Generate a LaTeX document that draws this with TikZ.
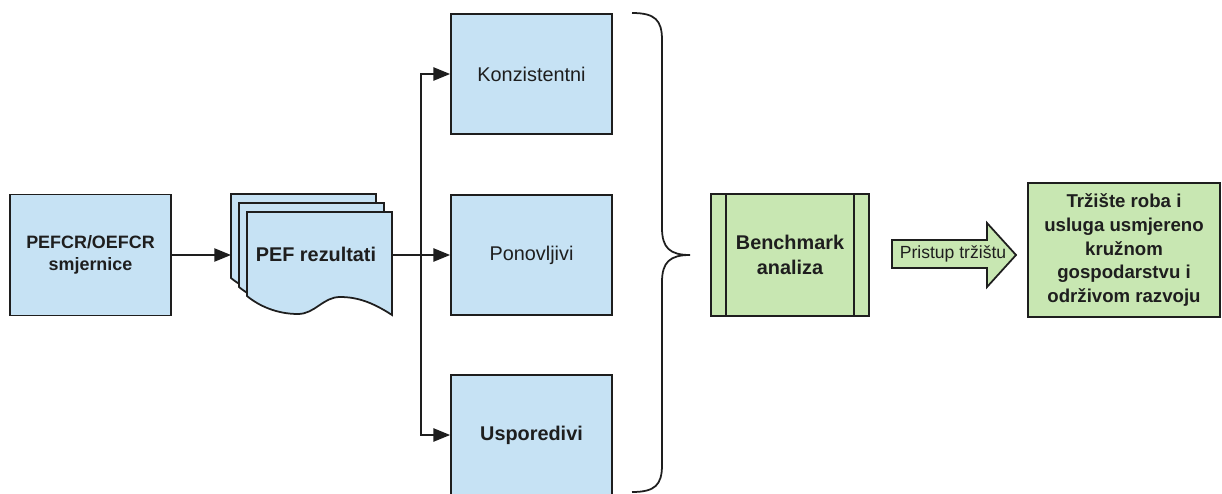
\documentclass[tikz,border=0pt]{standalone}
\usepackage{fontspec}
\setmainfont{Liberation Sans}
\usetikzlibrary{arrows.meta}
\definecolor{boxblue}{RGB}{198,226,244}
\definecolor{boxgreen}{RGB}{200,231,178}
\definecolor{ink}{RGB}{30,30,30}
\tikzset{
  box/.style={draw=ink, line width=1pt, minimum width=3.22cm, minimum height=2.4cm, align=center, text=ink, font=\fontsize{11.3}{13.6}\selectfont},
  bluebox/.style={box, fill=boxblue},
  greenbox/.style={box, fill=boxgreen},
  page/.style={draw=ink, line width=1pt, fill=boxblue},
  arr/.style={draw=ink, line width=1pt, -{Triangle[length=9.5pt,width=7.5pt]}},
}
\begin{document}
\begin{tikzpicture}[x=0.02cm,y=-0.02cm]
\useasboundingbox (0,0) rectangle (1222,493);
\node[bluebox, minimum height=2.42cm, font=\fontsize{10.2}{12.5}\selectfont\bfseries] (pefcr) at (90.5,255) {PEFCR/OEFCR\\smjernice};
\foreach \k in {0,1,2} {
	\pgfmathsetmacro{\x}{231+8*\k}
	\pgfmathsetmacro{\y}{194+9*\k}
	\draw[page] (\x,\y) -- ({\x+145},\y) -- ({\x+145},{\y+103})
		.. controls ({\x+125},{\y+90}) and ({\x+110},{\y+85}) .. ({\x+93},{\y+85})
		.. controls ({\x+76},{\y+85}) and ({\x+68},{\y+102}) .. ({\x+51},{\y+102})
		.. controls ({\x+30},{\y+102}) and ({\x+12},{\y+94}) .. (\x,{\y+84}) -- cycle;
}
\node[text=ink, font=\fontsize{11.3}{13.6}\selectfont\bfseries] (pef) at (316,254) {PEF rezultati};
\coordinate (pefin) at (231,255);
\coordinate (pefout) at (392,255);
\coordinate (split) at (421,255);
\node[bluebox] (kon) at (531.5,74) {Konzistentni};
\node[bluebox] (pon) at (531.5,255) {Ponovljivi};
\node[bluebox, font=\fontsize{11.3}{13.6}\selectfont\bfseries] (usp) at (531.5,435) {Usporedivi};
\draw[arr] (pefcr) -- (pefin);
\draw[arr] (pefout) -- (pon);
\draw[arr] (split) |- (kon);
\draw[arr] (split) |- (usp);
\draw[draw=ink, line width=1pt] (632,13) .. controls (655,13) and (662,20) .. (662,40) -- (662,228)
	.. controls (662,248) and (670,255) .. (690,255)
	.. controls (670,255) and (662,262) .. (662,282) -- (662,465)
	.. controls (662,485) and (655,492) .. (632,492);
\node[greenbox, minimum width=3.16cm, minimum height=2.44cm, font=\fontsize{11.3}{14}\selectfont\bfseries] (ben) at (790,255) {Benchmark\\analiza};
\draw[draw=ink, line width=1pt] ([xshift=0.32cm]ben.north west) -- ([xshift=0.32cm]ben.south west);
\draw[draw=ink, line width=1pt] ([xshift=-0.32cm]ben.north east) -- ([xshift=-0.32cm]ben.south east);
\draw[draw=ink, line width=1pt, fill=boxgreen] (892,240) -- (987,240) -- (987,223) -- (1016,255) -- (987,287) -- (987,268) -- (892,268) -- cycle;
\node[text=ink, font=\fontsize{10}{12}\selectfont] (pristup) at (953,254) {Pristup tržištu};
\node[greenbox, minimum width=3.84cm, minimum height=2.68cm, font=\fontsize{10.6}{13.6}\selectfont\bfseries] (trziste) at (1124,250) {Tržište roba i\\usluga usmjereno\\kružnom\\gospodarstvu i\\održivom razvoju};
\end{tikzpicture}
\end{document}
